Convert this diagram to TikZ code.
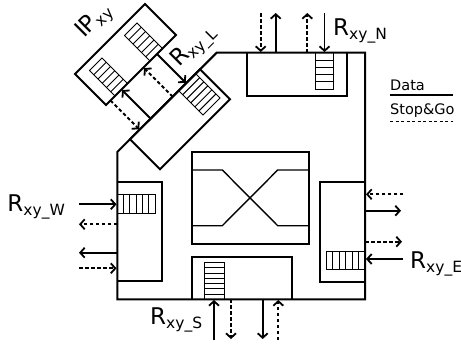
\documentclass[tikz,border=0pt]{standalone}
\usepackage{fontspec}
\setmainfont{DejaVu Sans}
\usetikzlibrary{arrows.meta}
\tikzset{
  edge/.style={line width=2pt},
  stripe/.style={line width=1pt},
  dat/.style={line width=1.8pt,-{Straight Barb[length=4.5pt,width=10pt]}},
  sg/.style={dat,dash pattern=on 3.5pt off 2.5pt},
  lbl/.style={inner sep=0pt,anchor=base west,font=\fontsize{23}{23}\selectfont},
  leg/.style={inner sep=0pt,anchor=base west,font=\fontsize{14.5}{14.5}\selectfont},
}
\newcommand\mysub[1]{\raisebox{-4.5pt}{\fontsize{15.5}{15.5}\selectfont #1}}
\begin{document}
\begin{tikzpicture}[x=1pt,y=-1pt,line join=miter]
\useasboundingbox (0,0) rectangle (461,346);
% router outline
\draw[edge] (117.3,299.3) -- (117.3,152) -- (216.7,52.7) -- (365,52.7) -- (365,299.3) -- cycle;
% crossbar
\draw[edge] (192.3,152.3) rectangle (309,244);
\draw[line width=1.4pt] (192.3,170) -- (222.3,170) -- (277.7,225.7) -- (309,225.7);
\draw[line width=1.4pt] (192.3,225.7) -- (222.3,225.7) -- (277.7,170) -- (309,170);
% north port
\draw[edge] (247.3,52.7) -- (247.3,96) -- (346.7,96) -- (346.7,52.7);
\draw[stripe] (315,52.7) rectangle (333.3,89.3);
\foreach \k in {1,...,4} \draw[stripe] (315,52.7+\k*7.32) -- (333.3,52.7+\k*7.32);
% south port
\draw[edge] (192.3,299.3) -- (192.3,256.7) -- (291.7,256.7) -- (291.7,299.3);
\draw[stripe] (204.3,262.7) rectangle (224,299.3);
\foreach \k in {1,...,6} \draw[stripe] (204.3,262.7+\k*5.23) -- (224,262.7+\k*5.23);
% west port
\draw[edge] (117.3,182.3) -- (161.7,182.3) -- (161.7,280.7) -- (117.3,280.7);
\draw[stripe] (117.3,194.3) rectangle (155,213.3);
\foreach \k in {1,...,5} \draw[stripe] (117.3+\k*6.28,194.3) -- (117.3+\k*6.28,213.3);
% east port
\draw[edge] (365,182.3) -- (320,182.3) -- (320,281.7) -- (365,281.7);
\draw[stripe] (326,251) rectangle (365,269);
\foreach \k in {1,...,5} \draw[stripe] (326+\k*6.5,251) -- (326+\k*6.5,269);
% north arrows
\coordinate (n1a) at (260.7,13); \coordinate (n1b) at (260.7,52);
\coordinate (n2a) at (275.7,52.7); \coordinate (n2b) at (275.7,13);
\coordinate (n3a) at (307.3,52.7); \coordinate (n3b) at (307.3,13);
\coordinate (n4a) at (324.5,13); \coordinate (n4b) at (324.5,52);
\draw[sg] (n1a) -- (n1b);
\draw[dat] (n2a) -- (n2b);
\draw[sg] (n3a) -- (n3b);
\draw[dat] (n4a) -- (n4b);
% east arrows
\coordinate (e1a) at (403.3,194.3); \coordinate (e1b) at (366,194.3);
\coordinate (e2a) at (365,210.7); \coordinate (e2b) at (401,210.7);
\coordinate (e3a) at (365,241.7); \coordinate (e3b) at (402,241.7);
\coordinate (e4a) at (403,259); \coordinate (e4b) at (366,259);
\draw[sg] (e1a) -- (e1b);
\draw[dat] (e2a) -- (e2b);
\draw[sg] (e3a) -- (e3b);
\draw[dat] (e4a) -- (e4b);
% south arrows
\coordinate (s1a) at (214,340); \coordinate (s1b) at (214,300);
\coordinate (s2a) at (231,299.3); \coordinate (s2b) at (231,339);
\coordinate (s3a) at (262.7,299.3); \coordinate (s3b) at (262.7,339);
\coordinate (s4a) at (278.3,340); \coordinate (s4b) at (278.3,300);
\draw[dat] (s1a) -- (s1b);
\draw[sg] (s2a) -- (s2b);
\draw[dat] (s3a) -- (s3b);
\draw[sg] (s4a) -- (s4b);
% west arrows
\coordinate (w1a) at (79,204.3); \coordinate (w1b) at (116.5,204.3);
\coordinate (w2a) at (117.3,224.3); \coordinate (w2b) at (79,224.3);
\coordinate (w3a) at (117.3,252.7); \coordinate (w3b) at (79,252.7);
\coordinate (w4a) at (79,268.3); \coordinate (w4b) at (116.5,268.3);
\draw[dat] (w1a) -- (w1b);
\draw[sg] (w2a) -- (w2b);
\draw[dat] (w3a) -- (w3b);
\draw[sg] (w4a) -- (w4b);
% rotated local port and IP core, (s,t) frame
\begin{scope}[x={(0.5pt,0.5pt)},y={(0.5pt,-0.5pt)}]
  \draw[edge] (-9.3,269.3) -- (130.7,269.3) -- (130.7,329.3) -- (-9.3,329.3) -- cycle;
  \draw[stripe] (88,269.3) -- (122,269.3) -- (122,318) -- (88,318) -- cycle;
  \foreach \k in {1,...,5} \draw[stripe] (88,269.3+\k*8.12) -- (122,269.3+\k*8.12);
  \draw[edge] (1,149) -- (141,149) -- (141,211) -- (1,211) -- cycle;
  \draw[stripe] (89,160) -- (114,160) -- (114,211) -- (89,211) -- cycle;
  \foreach \k in {1,...,5} \draw[stripe] (89,160+\k*8.5) -- (114,160+\k*8.5);
  \draw[stripe] (19,160) -- (44,160) -- (44,211) -- (19,211) -- cycle;
  \foreach \k in {1,...,5} \draw[stripe] (19,160+\k*8.5) -- (44,160+\k*8.5);
  \coordinate (l1a) at (103,211); \coordinate (l1b) at (103,268.5);
  \coordinate (l2a) at (76,269.3); \coordinate (l2b) at (76,212);
  \coordinate (l3a) at (32,269.3); \coordinate (l3b) at (32,212);
  \coordinate (l4a) at (10,211); \coordinate (l4b) at (10,268.5);
  \draw[dat] (l1a) -- (l1b);
  \draw[sg] (l2a) -- (l2b);
  \draw[dat] (l3a) -- (l3b);
  \draw[sg] (l4a) -- (l4b);
\end{scope}
% labels
\node[lbl] (lN) at (333,35) {R\mysub{xy\_N}};
\node[lbl] (lE) at (410,268) {R\mysub{xy\_E}};
\node[lbl] (lS) at (150,324) {R\mysub{xy\_S}};
\node[lbl] (lW) at (7.3,211) {R\mysub{xy\_W}};
\node[lbl,rotate=45] (lL) at (179,68) {R\mysub{xy\_L}};
\node[lbl,rotate=45] (lIP) at (84,39) {IP\mysub{xy}};
% legend
\node[leg] (ld) at (390,90) {Data};
\coordinate (ld1) at (390,95); \coordinate (ld2) at (452.7,95);
\draw[line width=1.5pt] (ld1) -- (ld2);
\node[leg] (lsg) at (390,114) {Stop\&Go};
\coordinate (ls1) at (390,121.7); \coordinate (ls2) at (453,121.7);
\draw[line width=1.5pt,dash pattern=on 3pt off 2.5pt] (ls1) -- (ls2);
\end{tikzpicture}
\end{document}
